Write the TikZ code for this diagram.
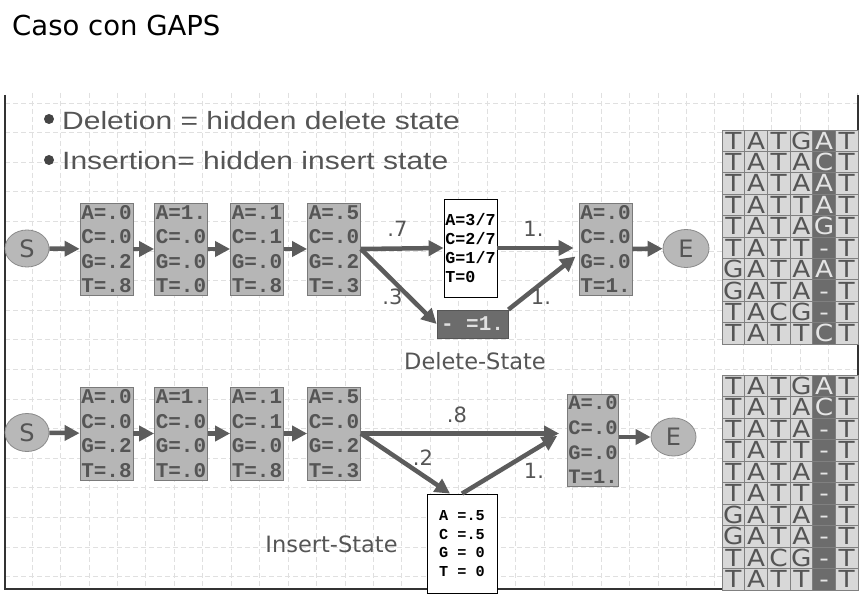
\documentclass[tikz,border=0pt]{standalone}
\usepackage{fontspec}
\setmainfont{DejaVu Sans}
\newfontfamily\bulletfont[FakeStretch=1.2]{Liberation Sans}
\newfontfamily\cellfont[FakeStretch=1.12]{DejaVu Sans}
\newfontfamily\monofont{Liberation Mono}
\usetikzlibrary{arrows.meta,shapes.geometric}
\definecolor{txtgray}{HTML}{555555}
\definecolor{arrgray}{HTML}{5C5C5C}
\definecolor{boxfill}{HTML}{B6B6B6}
\definecolor{boxline}{HTML}{7A7A7A}
\definecolor{darkcell}{HTML}{6C6C6C}
\definecolor{cellfill}{HTML}{D8D8D8}
\definecolor{cellline}{HTML}{808080}
\definecolor{gridcol}{HTML}{E0E0E0}
\definecolor{framecol}{HTML}{333333}
\definecolor{ellfill}{HTML}{B8B8B8}
\definecolor{ellline}{HTML}{8A8A8A}
\definecolor{bulcol}{HTML}{444444}
\tikzset{
  gridline/.style={draw=gridcol, line width=0.7pt, dash pattern=on 5pt off 3pt},
  emis/.style={draw=boxline, fill=boxfill, line width=0.8pt, minimum width=53pt,
    minimum height=92pt, inner sep=0pt, align=left, text=txtgray,
    font=\monofont\bfseries\fontsize{21}{24.5}\selectfont},
  stateell/.style={ellipse, draw=ellline, fill=ellfill, line width=0.8pt,
    minimum width=44pt, minimum height=37pt, inner sep=0pt, text=txtgray,
    font=\fontsize{24}{24}\selectfont},
  whitebox/.style={draw=black, fill=white, line width=0.8pt, inner sep=0pt,
    align=left, text=black},
  arr/.style={draw=arrgray, line width=4.5pt, -{Triangle[length=15pt,width=15pt]}},
  lab/.style={font=\fontsize{21}{22}\selectfont, text=txtgray, inner sep=0pt, anchor=base},
  lightc/.style={draw=cellline, line width=0.7pt, fill=cellfill, text=txtgray,
    minimum width=22.67pt, minimum height=21.4pt, inner sep=0pt,
    text height=17pt, text depth=0pt, font=\cellfont\fontsize{23.5}{23.5}\selectfont},
  darkc/.style={lightc, fill=darkcell, text=white!90!black},
}
\begin{document}
\begin{tikzpicture}[x=1pt,y=-1pt]
\useasboundingbox (0,0) rectangle (867,612);
\fill[white] (0,0) rectangle (867,612);
% background grid
\begin{scope}
\clip (5,93) rectangle (858,589);
\foreach \i in {0,...,30} \draw[gridline] ({3.5+28.45*\i},93) -- ({3.5+28.45*\i},589);
\foreach \j in {0,...,16} \draw[gridline] (5,{103+29.6*\j}) -- (858,{103+29.6*\j});
\end{scope}
% frame
\draw[framecol, line width=2.2pt] (5,95) -- (5,589) -- (858,589) -- (858,95);
% title and bullets
\node[anchor=base west, inner sep=0pt, font=\fontsize{27.5}{30}\selectfont, text=black] (title) at (12,36) {Caso con GAPS};
\node[circle, fill=bulcol, inner sep=0pt, minimum size=10pt] (bul1) at (49,119) {};
\node[circle, fill=bulcol, inner sep=0pt, minimum size=10pt] (bul2) at (49,160) {};
\node[anchor=base west, inner sep=0pt, font=\bulletfont\fontsize{25}{28}\selectfont, text=txtgray] (del) at (62,129.5) {Deletion = hidden delete state};
\node[anchor=base west, inner sep=0pt, font=\bulletfont\fontsize{25}{28}\selectfont, text=txtgray] (ins) at (62,170) {Insertion= hidden insert state};
% top row
\node[stateell] (S1) at (27,248.5) {S};
\node[emis] (b1) at (106.5,249) {A=.0\\C=.0\\G=.2\\T=.8};
\node[emis] (b2) at (181,249) {A=1.\\C=.0\\G=.0\\T=.0};
\node[emis] (b3) at (257,249) {A=.1\\C=.1\\G=.0\\T=.8};
\node[emis] (b4) at (334,249) {A=.5\\C=.0\\G=.2\\T=.3};
\node[whitebox, minimum width=53pt, minimum height=98pt, font=\monofont\bfseries\fontsize{16.7}{19}\selectfont] (W) at (470.5,248) {A=3/7\\C=2/7\\G=1/7\\T=0};
\node[draw=darkcell!80!black, fill=darkcell, line width=0.8pt, minimum width=71pt, minimum height=28pt, inner sep=0pt, text=white!88!black, font=\monofont\bfseries\fontsize{21}{21}\selectfont] (D) at (472.5,324) {- =1.};
\node[emis] (R1) at (605.5,249) {A=.0\\C=.0\\G=.0\\T=1.};
\node[stateell, minimum width=46pt, minimum height=38pt] (E1) at (686,248.5) {E};
\draw[arr] (S1) -- (b1);
\draw[arr] (b1) -- (b2);
\draw[arr] (b2) -- (b3);
\draw[arr] (b3) -- (b4);
\draw[arr] (b4.east) -- (W.west);
\draw[arr] (b4.east) -- (D.west);
\draw[arr, shorten >=5pt] (W.east) -- (W.east -| R1.west);
\draw[arr, shorten >=4pt] (D.north east) -- ([yshift=-5pt]R1.west);
\draw[arr] (R1) -- (E1);
\node[lab] (l7) at (397.5,237) {.7};
\node[lab] (l3) at (392.5,305) {.3};
\node[lab] (l1a) at (533.5,237) {1.};
\node[lab] (l1b) at (541,305) {1.};
\node[anchor=base, inner sep=0pt, font=\fontsize{22.5}{24}\selectfont, text=txtgray] (dstate) at (475,369) {Delete-State};
% bottom row
\node[stateell, minimum height=38pt] (S2) at (27,432.5) {S};
\node[emis, minimum height=93pt] (c1) at (106.5,433.5) {A=.0\\C=.0\\G=.2\\T=.8};
\node[emis, minimum height=93pt] (c2) at (181,433.5) {A=1.\\C=.0\\G=.0\\T=.0};
\node[emis, minimum height=93pt] (c3) at (257,433.5) {A=.1\\C=.1\\G=.0\\T=.8};
\node[emis, minimum height=93pt] (c4) at (334,433.5) {A=.5\\C=.0\\G=.2\\T=.3};
\node[emis, minimum width=51pt, font=\monofont\bfseries\fontsize{20.5}{24.7}\selectfont] (R2) at (593,440) {A=.0\\C=.0\\G=.0\\T=1.};
\node[stateell, minimum width=45pt, minimum height=38pt] (E2) at (673.5,437) {E};
\node[whitebox, minimum width=70pt, minimum height=99pt, font=\monofont\bfseries\fontsize{15.2}{18.7}\selectfont] (I) at (462,543.5) {A =.5\\C =.5\\G = 0\\T = 0};
\draw[arr] (S2) -- (c1);
\draw[arr] (c1) -- (c2);
\draw[arr] (c2) -- (c3);
\draw[arr] (c3) -- (c4);
\draw[arr, shorten >=8pt] (c4.east) -- (c4.east -| R2.west);
\draw[arr] (c4.east) -- ([xshift=-12pt]I.north);
\draw[arr] (I.north) -- ([xshift=-10pt,yshift=4pt]R2.west);
\draw[arr] (R2.east |- E2.west) -- (E2.west);
\node[lab] (l8) at (457,422) {.8};
\node[lab] (l2) at (423,465) {.2};
\node[lab] (l1c) at (534,478) {1.};
\node[anchor=base, inner sep=0pt, font=\fontsize{22.5}{24}\selectfont, text=txtgray] (istate) at (331.5,552) {Insert-State};
% alignments
\foreach \row [count=\r] in {{T,A,T,G,A,T},{T,A,T,A,C,T},{T,A,T,A,A,T},{T,A,T,T,A,T},{T,A,T,A,G,T},{T,A,T,T,-,T},{G,A,T,A,A,T},{G,A,T,A,-,T},{T,A,C,G,-,T},{T,A,T,T,C,T}} {
  \foreach \ch [count=\c] in \row {
    \ifnum\c=5 \def\cst{darkc}\else\def\cst{lightc}\fi
    \node[\cst] (ta-\r-\c) at ({722+22.67*(\c-0.5)},{130+21.4*(\r-0.5)}) {\ch};
  }
}
\foreach \row [count=\r] in {{T,A,T,G,A,T},{T,A,T,A,C,T},{T,A,T,A,-,T},{T,A,T,T,-,T},{T,A,T,A,-,T},{T,A,T,T,-,T},{G,A,T,A,-,T},{G,A,T,A,-,T},{T,A,C,G,-,T},{T,A,T,T,-,T}} {
  \foreach \ch [count=\c] in \row {
    \ifnum\c=5 \def\cst{darkc}\else\def\cst{lightc}\fi
    \node[\cst] (ba-\r-\c) at ({722+22.67*(\c-0.5)},{375+21.5*(\r-0.5)}) {\ch};
  }
}
\end{tikzpicture}
\end{document}
